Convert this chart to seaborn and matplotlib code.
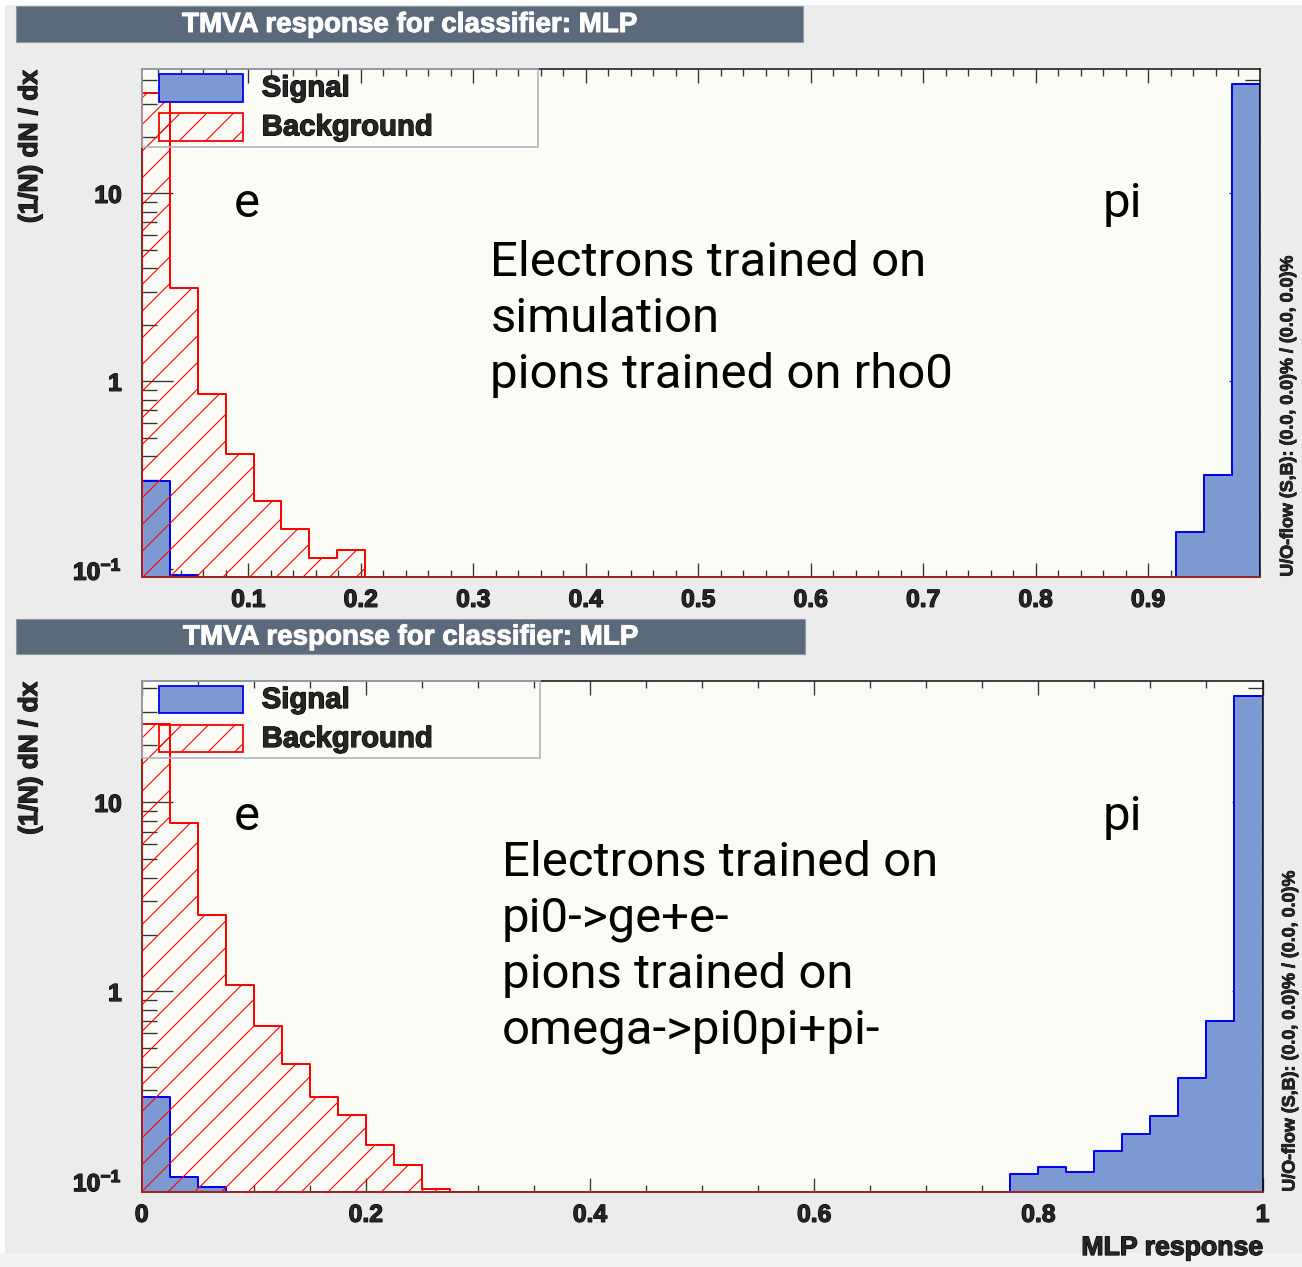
import numpy as np
import pandas as pd
import matplotlib
matplotlib.use("Agg")
import matplotlib.pyplot as plt
import matplotlib.patheffects as pe
import seaborn as sns
from matplotlib.patches import Rectangle
from matplotlib.ticker import (FixedLocator, MultipleLocator, LogLocator,
                               NullFormatter, FuncFormatter)

# ---------------------------------------------------------------------------
# Normalised MLP response, (1/N) dN/dx, 40 bins per panel
# ---------------------------------------------------------------------------
N_BINS = 40
top_range = (0.0052, 0.9995)
bottom_range = (0.0, 1.0)

top_signal = [0.295, 0.093, 0, 0, 0, 0, 0, 0, 0, 0,
              0, 0, 0, 0, 0, 0, 0, 0, 0, 0,
              0, 0, 0, 0, 0, 0, 0, 0, 0, 0,
              0, 0, 0, 0, 0, 0, 0, 0.157, 0.319, 38.3]
top_background = [34.3, 3.14, 0.86, 0.41, 0.23, 0.164, 0.115, 0.126, 0, 0,
                  0, 0, 0, 0, 0, 0, 0, 0, 0, 0,
                  0, 0, 0, 0, 0, 0, 0, 0, 0, 0,
                  0, 0, 0, 0, 0, 0, 0, 0, 0, 0]

bottom_signal = [0.277, 0.105, 0.093, 0, 0, 0, 0, 0, 0, 0,
                 0, 0, 0, 0, 0, 0, 0, 0, 0, 0,
                 0, 0, 0, 0, 0, 0, 0, 0, 0, 0,
                 0, 0.109, 0.118, 0.111, 0.143, 0.177, 0.22, 0.348, 0.695, 36.3]
bottom_background = [26.0, 7.78, 2.55, 1.08, 0.653, 0.412, 0.277, 0.222, 0.154, 0.121,
                     0.090, 0, 0, 0, 0, 0, 0, 0, 0, 0,
                     0, 0, 0, 0, 0, 0, 0, 0, 0, 0,
                     0, 0, 0, 0, 0, 0, 0, 0, 0, 0]

title_text = "TMVA response for classifier: MLP"
ylabel_text = "(1/N) dN / dx"
xlabel_text = "MLP response"
overflow_text = "U/O-flow (S,B): (0.0, 0.0)% / (0.0, 0.0)%"
top_notes = ["Electrons trained on", "simulation", "pions trained on rho0"]
bottom_notes = ["Electrons trained on", "pi0->ge+e-", "pions trained on", "omega->pi0pi+pi-"]

# ---------------------------------------------------------------------------
# Style
# ---------------------------------------------------------------------------
SIG_FILL = "#7d99d1"
SIG_LINE = "#0000ee"
BKG_LINE = "#ff0000"
CANVAS = "#ececec"
FRAME = "#fcfcf7"
TITLE_BOX = "#5b6a7a"

sns.set_style("ticks")
plt.rcParams["font.family"] = ["Liberation Sans", "DejaVu Sans"]
plt.rcParams["font.weight"] = "bold"
plt.rcParams["mathtext.fontset"] = "custom"
plt.rcParams["mathtext.rm"] = "Liberation Sans:bold"
plt.rcParams["mathtext.bf"] = "Liberation Sans:bold"
plt.rcParams["hatch.linewidth"] = 0.5
plt.rcParams["hatch.color"] = BKG_LINE

# slightly heavier strokes for the bold labels
HEAVY = [pe.withStroke(linewidth=0.55, foreground="black")]
HEAVY_WHITE = [pe.withStroke(linewidth=0.45, foreground="white")]

W, H = 1302, 1267
DPI = 160
fig = plt.figure(figsize=(W / DPI, H / DPI), dpi=DPI, facecolor=CANVAS)


def fx(x):
    return x / W


def fy(y):
    return 1 - y / H


def fig_rect(x0, y0, x1, y1, **kw):
    r = Rectangle((fx(x0), fy(y1)), fx(x1) - fx(x0), (y1 - y0) / H,
                  transform=fig.transFigure, **kw)
    fig.add_artist(r)
    return r


# margins of the canvas
fig_rect(0, 0, 5, H, facecolor="white", edgecolor="none", zorder=0)
fig_rect(0, 0, W, 5, facecolor="white", edgecolor="none", zorder=0)
fig_rect(0, 1253, W, H, facecolor="#f3f3f3", edgecolor="none", zorder=0)


def draw_hist(ax, xrange_, values, **kw):
    edges = np.linspace(xrange_[0], xrange_[1], N_BINS + 1)
    centers = 0.5 * (edges[:-1] + edges[1:])
    df = pd.DataFrame({"response": centers, "density": values})
    sns.histplot(data=df, x="response", weights="density", bins=N_BINS,
                 binrange=xrange_, element="step", fill=True, stat="count",
                 ax=ax, alpha=1, **kw)


panels = [
    dict(frame=(141.7, 69.3, 1260.0, 576.7), xr=top_range, ylim=(0.0913, 45.7),
         sig=top_signal, bkg=top_background, major=0.1, minor=0.02,
         title_box=(16, 6, 803, 42), legend_right=538,
         notes=top_notes, note_x=490.5, note_base=276.0, mark_base=217.0,
         overflow_x=1288, xlabel=False),
    dict(frame=(141.7, 681.0, 1262.5, 1191.7), xr=bottom_range, ylim=(0.0874, 43.8),
         sig=bottom_signal, bkg=bottom_background, major=0.2, minor=0.05,
         title_box=(16, 619, 805, 654), legend_right=540,
         notes=bottom_notes, note_x=501.5, note_base=876.0, mark_base=830.0,
         overflow_x=1290, xlabel=True),
]

for p in panels:
    l, t, r, b = p["frame"]
    ax = fig.add_axes([fx(l), fy(b), fx(r) - fx(l), (b - t) / H])
    ax.set_facecolor(FRAME)
    ax.set_yscale("log")

    draw_hist(ax, p["xr"], p["sig"], color=SIG_FILL, facecolor=SIG_FILL,
              edgecolor=SIG_LINE, linewidth=0.9, zorder=2)
    draw_hist(ax, p["xr"], p["bkg"], color=BKG_LINE, facecolor="none",
              edgecolor=BKG_LINE, hatch="//", linewidth=0.9, zorder=3)

    ax.set_xlim(*p["xr"])
    ax.set_ylim(*p["ylim"])
    ax.set_xlabel("")
    ax.set_ylabel("")

    # axes ticks
    ax.xaxis.set_major_locator(MultipleLocator(p["major"]))
    ax.xaxis.set_minor_locator(MultipleLocator(p["minor"]))
    ax.xaxis.set_major_formatter(FuncFormatter(lambda v, pos: f"{v:g}"))
    ax.yaxis.set_major_locator(FixedLocator([0.1, 1, 10]))
    ax.yaxis.set_minor_locator(LogLocator(base=10, subs=np.arange(2, 10)))
    ax.yaxis.set_minor_formatter(NullFormatter())
    ylabels = {0.1: r"$\mathbf{10^{-1}}$", 1: "1", 10: "10"}
    ax.yaxis.set_major_formatter(
        FuncFormatter(lambda v, pos: ylabels.get(round(v, 3), "")))

    ax.tick_params(axis="both", which="both", direction="in", top=True,
                   right=True, color="#333333", width=0.6)
    ax.tick_params(axis="y", which="major", length=14, pad=9, labelsize=11.1)
    ax.tick_params(axis="y", which="minor", length=6.8)
    ax.tick_params(axis="x", which="major", length=6.5, pad=5, labelsize=11.1)
    ax.tick_params(axis="x", which="minor", length=3.2)
    for lab in ax.get_xticklabels() + ax.get_yticklabels():
        lab.set_fontweight("bold")
        lab.set_path_effects(HEAVY)

    for side, sp in ax.spines.items():
        sp.set_visible(True)
        sp.set_color("#111111")
        sp.set_linewidth(0.7)
    ax.spines["bottom"].set_color("#9a2525")
    ax.spines["bottom"].set_linewidth(0.9)

    # title banner
    tx0, ty0, tx1, ty1 = p["title_box"]
    fig_rect(tx0, ty0, tx1, ty1, facecolor=TITLE_BOX, edgecolor="#8c97a3",
             linewidth=0.5, zorder=1)
    fig.text(fx((tx0 + tx1) / 2), fy((ty0 + ty1) / 2 + 1), title_text,
             color="white", ha="center", va="center", fontsize=12.5,
             fontweight="bold", zorder=5, path_effects=HEAVY_WHITE)

    # legend
    fig_rect(l, t, p["legend_right"], t + 77.4, fill=False,
             edgecolor="#a9b1bf", linewidth=0.7, zorder=4)
    fig_rect(159.3, t + 5.0, 243.3, t + 32.4, facecolor=SIG_FILL,
             edgecolor=SIG_LINE, linewidth=0.8, zorder=5)
    fig_rect(159.3, t + 44.0, 243.3, t + 71.4, facecolor="none",
             edgecolor=BKG_LINE, hatch="//", linewidth=0.8, zorder=5)
    fig.text(fx(261.7), fy(t + 19.0), "Signal", ha="left", va="center",
             fontsize=13.2, fontweight="bold", zorder=6, path_effects=HEAVY)
    fig.text(fx(261.7), fy(t + 58.0), "Background", ha="left", va="center",
             fontsize=13.2, fontweight="bold", zorder=6, path_effects=HEAVY)

    # axis titles
    fig.text(fx(30), fy(t + 1), ylabel_text, rotation=90, ha="center",
             va="top", fontsize=11.8, fontweight="bold", path_effects=HEAVY)
    fig.text(fx(p["overflow_x"]), fy(b), overflow_text, rotation=90,
             ha="center", va="bottom", fontsize=8.05, fontweight="bold",
             path_effects=[pe.withStroke(linewidth=0.35, foreground="black")])
    if p["xlabel"]:
        fig.text(fx(r), fy(1248), xlabel_text, ha="right", va="center",
                 fontsize=12, fontweight="bold", path_effects=HEAVY)

    # annotations
    note_font = dict(fontfamily=["Roboto", "DejaVu Sans"], fontweight="normal",
                     fontsize=22.1, va="baseline", ha="left", color="black")
    fig.text(fx(234), fy(p["mark_base"]), "e", **note_font)
    fig.text(fx(1103), fy(p["mark_base"]), "pi", **note_font)
    for i, line in enumerate(p["notes"]):
        fig.text(fx(p["note_x"]), fy(p["note_base"] + 56 * i), line, **note_font)

fig.savefig("out.png", dpi=DPI, facecolor=CANVAS)
